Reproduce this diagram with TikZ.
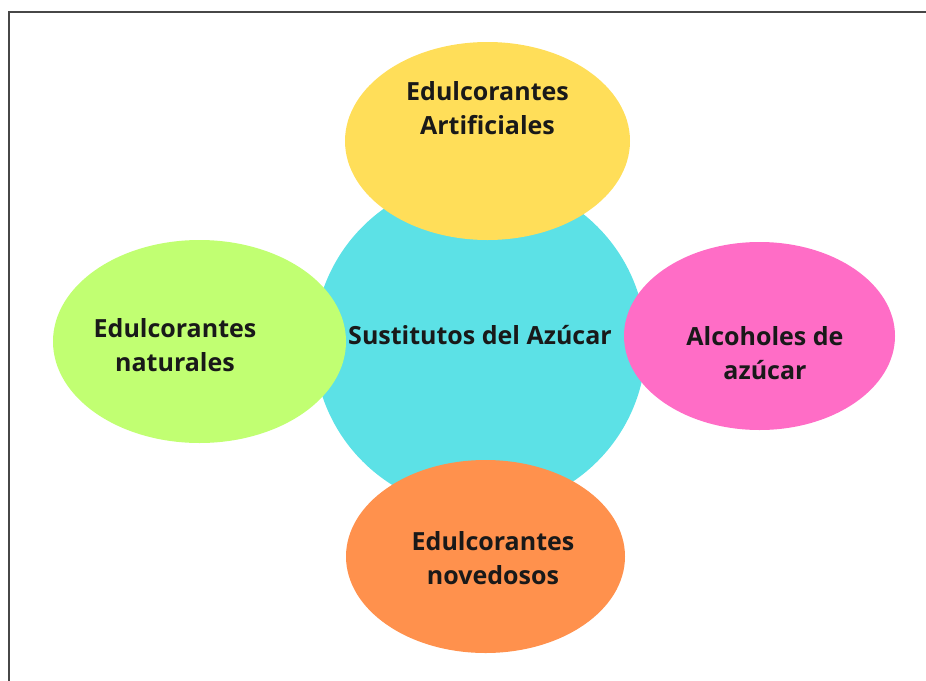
\documentclass[tikz,border=0pt]{standalone}
\usepackage{fontspec}
\setmainfont{Open Sans}
\usetikzlibrary{shapes.geometric}
\definecolor{cian}{HTML}{5CE1E6}
\definecolor{amarillo}{HTML}{FFDE59}
\definecolor{verde}{HTML}{C1FF72}
\definecolor{rosa}{HTML}{FF6DC6}
\definecolor{naranja}{HTML}{FF914D}
\definecolor{marco}{HTML}{474747}
\begin{document}
\begin{tikzpicture}[x=1pt,y=-1pt,
    blob/.style={ellipse,inner sep=0pt,draw=none},
    lbl/.style={align=center,inner sep=0pt,
      font=\fontsize{25}{34}\selectfont\bfseries,text=black!90}]
      \useasboundingbox (0,0) rectangle (926,680);
      \clip (0,0) rectangle (926,680);
      \draw[marco,line width=2.6pt] (9,12) rectangle (960,720);
      % centro
      \node[blob,fill=cian,minimum width=332,minimum height=332] (sust) at (480,344) {};
      % alrededor
      \node[blob,fill=amarillo,minimum width=285,minimum height=198] (art) at (487.5,141) {};
      \node[blob,fill=verde,minimum width=293,minimum height=203] (nat) at (199.5,341.5) {};
      \node[blob,fill=rosa,minimum width=271,minimum height=188] (alc) at (759.5,336) {};
      \node[blob,fill=naranja,minimum width=279,minimum height=193] (nov) at (485.5,556.5) {};
      % textos
      \node[lbl] (sustT) at ([yshift=9]sust.center) {Sustitutos del Azúcar};
      \node[lbl] (artT) at ([yshift=32.5]art.center) {Edulcorantes\\Artificiales};
      \node[lbl] (natT) at ([xshift=-24.5,yshift=-3.5]nat.center) {Edulcorantes\\naturales};
      \node[lbl] (alcT) at ([xshift=5.5,yshift=-17]alc.center) {Alcoholes de\\azúcar};
      \node[lbl] (novT) at ([xshift=7.5,yshift=-1.5]nov.center) {Edulcorantes\\novedosos};
    \end{tikzpicture}
\end{document}
